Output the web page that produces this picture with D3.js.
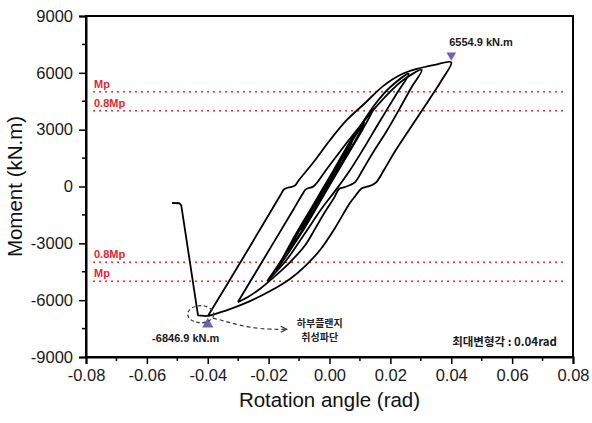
<!DOCTYPE html>
<html>
<head>
<meta charset="utf-8">
<script src="https://cdn.jsdelivr.net/npm/d3@7"></script>
<style>
  body { margin: 0; background: #fff; }
  svg { display: block; }
</style>
</head>
<body>
<div id="chart"></div>
<script>
// axis ticks
const xTicks = [-0.08, -0.06, -0.04, -0.02, 0, 0.02, 0.04, 0.06, 0.08]
const yTicks = [-9000, -6000, -3000, 0, 3000, 6000, 9000]

// plastic moment reference levels (kN.m)
const mpLabels = ["Mp", "0.8Mp", "0.8Mp", "Mp"]
const mpValues = [5000, 4000, -4000, -5000]

// peak moments
const peakPos = [0.04, 6554.9]
const peakNeg = [-0.04, -6846.9]

// hysteresis cycles, [rotation (rad), moment (kN.m)]
const cycleA = [[-0.0056,-1250],[-0.0030,-490],[0.0000,330],[0.0036,1250],
  [0.0015,630],[-0.0020,-330],[-0.0056,-1250]]
const cycleB = [[-0.0095,-2320],[-0.0060,-1250],[-0.0020,-160],[0.0025,1060],[0.0075,2400],
  [0.0040,1250],[0.0000,160],[-0.0045,-1060],[-0.0095,-2320]]
const cycleC = [[-0.0135,-3420],[-0.0095,-2160],[-0.0045,-790],[0.0010,710],[0.0065,2210],[0.0115,3370],
  [0.0085,2430],[0.0035,1060],[-0.0015,-300],[-0.0080,-2070],[-0.0135,-3420]]
const cycleD = [[-0.0175,-4450],[-0.0125,-2920],[-0.0055,-1010],[0.0015,900],[0.0085,2820],[0.0145,4100],
  [0.0110,3050],[0.0055,1550],[-0.0005,-80],[-0.0085,-2270],[-0.0175,-4450]]
const cycleE = [[-0.0205,-5000],[-0.0150,-3700],[-0.0070,-1530],[0.0010,650],[0.0080,2560],[0.0125,3780],
  [0.0160,4550],[0.0200,5250],[0.0260,5950],
  [0.0215,4750],[0.0160,3300],[0.0110,1950],[0.0065,800],[0.0025,-100],[-0.0025,-1150],
  [-0.0080,-2450],[-0.0140,-3850],[-0.0205,-5000]]
const cycle3 = [[-0.0301,-6100],[-0.0200,-3400],[-0.0120,-1250],[-0.0085,-300],[-0.0078,-150],
  [-0.0068,-80],[-0.0055,-20],[-0.0045,120],[-0.0010,900],[0.0030,1750],[0.0065,2480],[0.0110,3380],
  [0.0150,4150],[0.0190,4850],[0.0240,5600],[0.0303,6150],
  [0.0270,5250],[0.0230,4100],[0.0185,2850],[0.0145,1850],[0.0110,900],[0.0085,250],[0.0068,80],
  [0.0050,-30],[0.0032,-120],[0.0015,-600],[-0.0015,-1350],[-0.0048,-2250],[-0.0080,-3100],
  [-0.0130,-4000],[-0.0179,-4730],[-0.0228,-5400],[-0.0268,-5830],[-0.0301,-6100]]
const cycle4 = [[-0.0400,-6847],[-0.0300,-4200],[-0.0200,-1500],[-0.0160,-420],[-0.0150,-160],
  [-0.0140,-80],[-0.0125,-20],[-0.0113,60],[-0.0100,350],[-0.0054,1250],[0.0002,2455],[0.0057,3511],
  [0.0117,4409],[0.0176,5300],[0.0232,5887],[0.0287,6204],[0.0346,6420],[0.0400,6555],
  [0.0370,5650],[0.0330,4650],[0.0264,3050],[0.0218,1927],[0.0179,871],[0.0155,250],[0.0140,80],
  [0.0120,-20],[0.0105,-100],[0.0085,-500],[0.0067,-870],[0.0018,-2190],[-0.0031,-3350],
  [-0.0080,-4200],[-0.0130,-4880],[-0.0195,-5520],[-0.0261,-6050],[-0.0327,-6470],[-0.0400,-6847]]
const fracture = [[-0.0400,-6847],[-0.0432,-6800],[-0.0487,-1000],[-0.0493,-885],[-0.0517,-870]]

const cycles = [cycleA, cycleB, cycleC, cycleD, cycleE, cycle3, cycle4]

var margin = {top: 16, right: 19, bottom: 66, left: 86},
  width = 592 - margin.left - margin.right,
  height = 423 - margin.top - margin.bottom

var svg = d3.select("#chart")
  .append("svg")
  .attr("width", 592)
  .attr("height", 423)
  .style("font-family", "'Liberation Sans', Arial, sans-serif")

var g = svg.append("g")
  .attr("transform", "translate(" + margin.left + "," + margin.top + ")")

var x = d3.scaleLinear().domain([-0.08, 0.08]).range([0, width])
var y = d3.scaleLinear().domain([-9000, 9000]).range([height, 0])

// Mp reference lines (dotted red)
mpValues.forEach(function (v, i) {
  g.append("line")
    .attr("x1", 8).attr("x2", width - 5)
    .attr("y1", y(v)).attr("y2", y(v))
    .attr("stroke", "#e0353a")
    .attr("stroke-width", 2)
    .attr("stroke-linecap", "round")
    .attr("stroke-dasharray", "0.1,5.9")
  g.append("text")
    .attr("x", 8).attr("y", y(v) - 4)
    .text(mpLabels[i])
    .attr("fill", "#e0282e")
    .style("font-size", "11px")
    .style("font-weight", "bold")
})

// hysteresis curves
var line = d3.line()
  .x(function (d) { return x(d[0]) })
  .y(function (d) { return y(d[1]) })
  .curve(d3.curveCatmullRom.alpha(0.5))

g.selectAll(".loop")
  .data(cycles)
  .join("path")
  .attr("class", "loop")
  .attr("d", line)
  .attr("fill", "none")
  .attr("stroke", "#000")
  .attr("stroke-width", 1.8)
  .attr("stroke-linejoin", "round")

// flange fracture branch, straight segments
g.append("path")
  .attr("d", line.curve(d3.curveLinear)(fracture))
  .attr("fill", "none")
  .attr("stroke", "#000")
  .attr("stroke-width", 1.8)
  .attr("stroke-linejoin", "round")

// frame
g.append("rect")
  .attr("width", width).attr("height", height)
  .attr("fill", "none")
  .attr("stroke", "#000")
  .attr("stroke-width", 2)

// axes
var xMinor = d3.range(-0.07, 0.08, 0.02)
var yMinor = d3.range(-7500, 9000, 3000)

var xAxis = g.append("g")
  .attr("transform", "translate(0," + height + ")")
  .call(d3.axisBottom(x).tickValues(xTicks).tickSize(7).tickPadding(5)
    .tickFormat(function (d) { return d.toFixed(2) }))
xAxis.append("g").selectAll("line").data(xMinor).join("line")
  .attr("x1", function (d) { return x(d) }).attr("x2", function (d) { return x(d) })
  .attr("y1", 0).attr("y2", 4).attr("stroke", "#000").attr("stroke-width", 1.5)

var yAxis = g.append("g")
  .call(d3.axisLeft(y).tickValues(yTicks).tickSize(7).tickPadding(6)
    .tickFormat(function (d) { return String(d) }))
yAxis.append("g").selectAll("line").data(yMinor).join("line")
  .attr("y1", function (d) { return y(d) }).attr("y2", function (d) { return y(d) })
  .attr("x1", 0).attr("x2", -4).attr("stroke", "#000").attr("stroke-width", 1.5)

;[xAxis, yAxis].forEach(function (a) {
  a.select(".domain").attr("stroke-width", 2)
  a.selectAll(".tick line").attr("stroke-width", 1.5)
  a.selectAll("text")
    .style("font-size", "16.5px")
    .style("font-family", "'Liberation Sans', Arial, sans-serif")
    .attr("fill", "#1a1a1a")
})

// axis titles
svg.append("text")
  .attr("x", margin.left + x(0)).attr("y", 407)
  .attr("text-anchor", "middle")
  .style("font-size", "20.5px")
  .attr("fill", "#111")
  .text("Rotation angle (rad)")

svg.append("text")
  .attr("transform", "translate(22," + (margin.top + y(0)) + ") rotate(-90)")
  .attr("text-anchor", "middle")
  .style("font-size", "20.5px")
  .attr("fill", "#111")
  .text("Moment (kN.m)")

// peak markers
var tri = d3.symbol().type(d3.symbolTriangle)
g.append("path")
  .attr("d", tri.size(40)())
  .attr("transform", "translate(" + x(peakPos[0]) + "," + (y(peakPos[1]) - 7) + ") rotate(180)")
  .attr("fill", "#6c63b8")
g.append("text")
  .attr("x", x(peakPos[0]) - 2).attr("y", y(peakPos[1]) - 16)
  .style("font-size", "11px").style("font-weight", "bold")
  .attr("fill", "#1a1a1a")
  .text(peakPos[1].toFixed(1) + " kN.m")

g.append("path")
  .attr("d", tri.size(55)())
  .attr("transform", "translate(" + x(peakNeg[0]) + "," + (y(peakNeg[1]) + 8) + ")")
  .attr("fill", "#6c63b8")
g.append("text")
  .attr("x", x(peakNeg[0]) - 22).attr("y", y(peakNeg[1]) + 26)
  .attr("text-anchor", "middle")
  .style("font-size", "11px").style("font-weight", "bold")
  .attr("fill", "#1a1a1a")
  .text(peakNeg[1].toFixed(1) + " kN.m")

// fracture annotation (dashed ellipse + arrow)
var px = x(peakNeg[0]), py = y(peakNeg[1])
g.append("ellipse")
  .attr("cx", px - 7).attr("cy", py - 2)
  .attr("rx", 13).attr("ry", 8.5)
  .attr("fill", "none").attr("stroke", "#333")
  .attr("stroke-width", 1.2).attr("stroke-dasharray", "3.5,2.5")
g.append("path")
  .attr("d", "M" + (px + 5) + "," + (py + 2) + " C" + (px + 25) + "," + (py + 6) + " " + (px + 38) + "," + (py + 14) + " " + (px + 78) + "," + (py + 13))
  .attr("fill", "none").attr("stroke", "#333")
  .attr("stroke-width", 1.2).attr("stroke-dasharray", "4,3")
g.append("path")
  .attr("d", "M" + (px + 73) + "," + (py + 10) + " L" + (px + 79) + "," + (py + 13) + " L" + (px + 73) + "," + (py + 16))
  .attr("fill", "none").attr("stroke", "#333").attr("stroke-width", 1.2)

var note = g.append("text")
  .attr("text-anchor", "middle")
  .style("font-family", "'Noto Sans CJK KR', sans-serif")
  .style("font-size", "10px")
  .style("font-weight", "bold")
  .attr("fill", "#222")
note.append("tspan").attr("x", px + 112).attr("y", py + 11).text("하부플랜지")
note.append("tspan").attr("x", px + 112).attr("y", py + 25).text("취성파단")

g.append("text")
  .attr("x", width - 16).attr("y", height - 11)
  .attr("text-anchor", "end")
  .style("font-family", "'Noto Sans CJK KR', sans-serif")
  .style("font-size", "11.5px").style("font-weight", "bold")
  .attr("fill", "#1a1a1a")
  .text("최대변형각 : 0.04rad")
</script>
</body>
</html>
